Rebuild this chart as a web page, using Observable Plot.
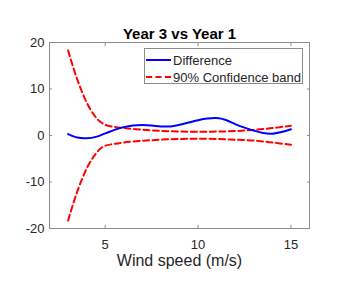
<!DOCTYPE html>
<html><head><meta charset="utf-8">
<script src="https://cdn.jsdelivr.net/npm/d3@7"></script>
<script src="https://cdn.jsdelivr.net/npm/@observablehq/plot@0.6"></script>
<style>
html,body{margin:0;padding:0;background:#fff;}
#wrap{position:relative;width:346px;height:289px;}
#legend{position:absolute;left:144px;top:48px;width:157px;height:34px;border:1px solid #8c8c8c;background:#fff;font-family:"Liberation Sans",Arial,Helvetica,sans-serif;font-size:13px;color:#262626;}
.row{position:absolute;left:0;height:16px;display:flex;align-items:center;white-space:nowrap;}
.row svg{margin-left:1px;margin-right:2px;}
</style>
</head><body>
<div id="wrap"><div id="chart"></div>
<div id="legend">
  <div class="row" style="top:3px"><svg width="25" height="4"><line x1="0" x2="25" y1="2" y2="2" stroke="#0000ff" stroke-width="2"/></svg>Difference</div>
  <div class="row" style="top:20px"><svg width="25" height="4"><line x1="0" x2="25" y1="2" y2="2" stroke="#ff0000" stroke-width="2" stroke-dasharray="6,3.5"/></svg>90% Confidence band</div>
</div>
</div>
<script>
const titleText = "Year 3 vs Year 1";
const xLabelText = "Wind speed (m/s)";
const xTicks = [5, 10, 15];
const yTicks = [-20, -10, 0, 10, 20];

const diffX = [3, 3.5, 4, 4.5, 5, 5.5, 6, 6.5, 7, 7.5, 8, 8.5, 9, 9.5, 10, 10.5, 11, 11.5, 12, 12.5, 13, 13.5, 14, 14.5, 15];
const diffY = [0.3, -0.45, -0.6, -0.3, 0.45, 1.2, 1.8, 2.15, 2.25, 2.15, 1.95, 1.95, 2.3, 2.8, 3.3, 3.65, 3.75, 3.35, 2.45, 1.7, 1.05, 0.55, 0.4, 0.75, 1.35];

const bandX = [3, 3.25, 3.5, 3.75, 4, 4.25, 4.5, 4.75, 5, 5.5, 6, 7, 8, 9, 10, 11, 12, 13, 14, 15];
const upperY = [18.3, 15.0, 12.0, 9.4, 7.1, 5.3, 3.9, 2.9, 2.3, 1.85, 1.6, 1.25, 1.0, 0.85, 0.8, 0.85, 0.95, 1.2, 1.6, 2.1];
const lowerY = [-18.3, -15.0, -12.0, -9.4, -7.1, -5.3, -3.9, -2.8, -2.2, -1.8, -1.5, -1.15, -0.9, -0.75, -0.7, -0.75, -0.9, -1.1, -1.5, -2.0];

const diff = diffX.map((x, i) => ({x, y: diffY[i]}));
const upper = bandX.map((x, i) => ({x, y: upperY[i]}));
const lower = bandX.map((x, i) => ({x, y: lowerY[i]}));

const font = '"Liberation Sans", Arial, Helvetica, sans-serif';
const axisColor = "#8c8c8c";
const textColor = "#262626";
const fmt = d => String(d);

const chart = Plot.plot({
  width: 346,
  height: 289,
  marginTop: 42,
  marginLeft: 49,
  marginRight: 37,
  marginBottom: 61,
  style: {fontFamily: font, fontSize: "13px", color: textColor, background: "#fff"},
  x: {domain: [2, 16], label: null},
  y: {domain: [-20, 20], label: null},
  marks: [
    Plot.frame({stroke: axisColor, strokeWidth: 1}),
    Plot.axisX({anchor: "bottom", ticks: xTicks, tickSize: -3, tickPadding: 14, tickFormat: fmt, stroke: axisColor, fill: textColor, fontSize: 13, label: null}),
    Plot.axisX({anchor: "top", ticks: xTicks, tickSize: -3, tickFormat: () => "", stroke: axisColor, label: null}),
    Plot.axisY({anchor: "left", ticks: yTicks, tickSize: -3, tickPadding: 8, tickFormat: fmt, stroke: axisColor, fill: textColor, fontSize: 13, label: null}),
    Plot.axisY({anchor: "right", ticks: yTicks, tickSize: -3, tickFormat: () => "", stroke: axisColor, label: null}),
    Plot.line(upper, {x: "x", y: "y", stroke: "#ff0000", strokeWidth: 2, strokeDasharray: "6,3.5", curve: "catmull-rom"}),
    Plot.line(lower, {x: "x", y: "y", stroke: "#ff0000", strokeWidth: 2, strokeDasharray: "6,3.5", curve: "catmull-rom"}),
    Plot.line(diff, {x: "x", y: "y", stroke: "#0000ff", strokeWidth: 2, curve: "catmull-rom"}),
    Plot.text([titleText], {text: d => d, frameAnchor: "top", lineAnchor: "bottom", dy: -4, fontSize: 15, fontWeight: "bold", fill: "#000"}),
    Plot.text([xLabelText], {text: d => d, frameAnchor: "bottom", lineAnchor: "top", dy: 26, fontSize: 16, fill: textColor})
  ]
});
document.getElementById("chart").appendChild(chart);
</script>
</body></html>
